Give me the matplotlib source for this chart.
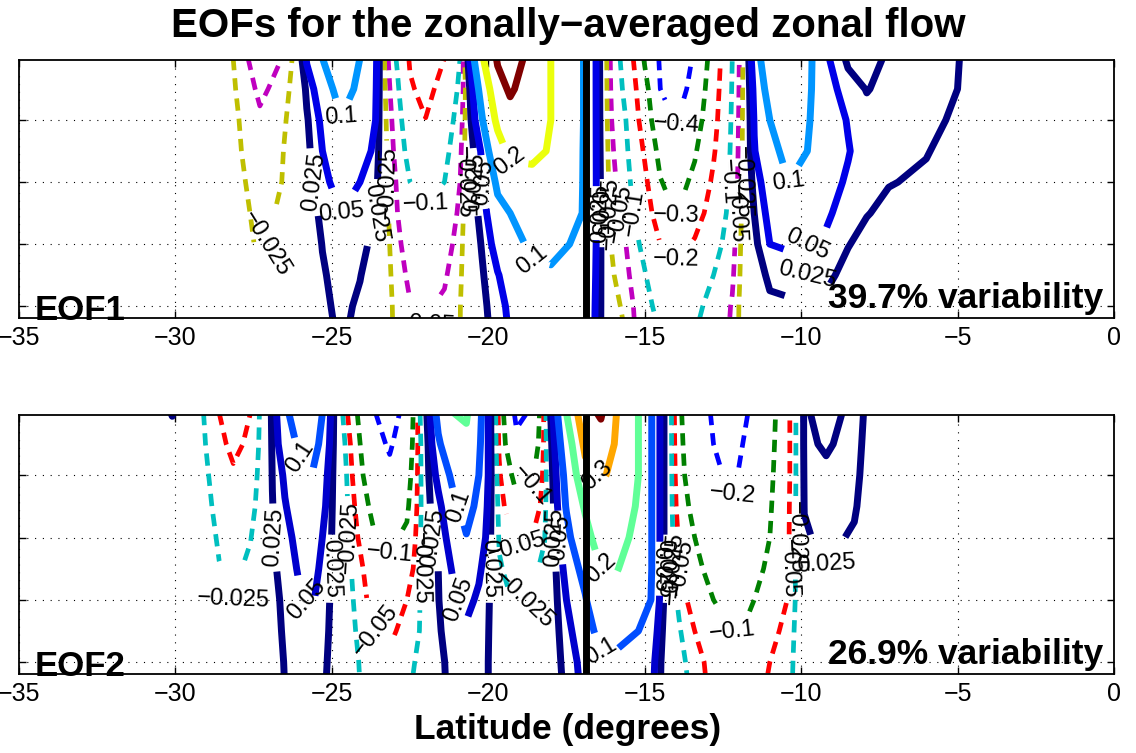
import numpy as np
import matplotlib.pyplot as plt
from matplotlib.colors import Normalize

plt.rcParams['font.family'] = ['Liberation Sans', 'DejaVu Sans']

# vertical levels (top of panel = 0)
depth = [0, 100, 200, 300, 400, 500, 600, 700, 800, 900]

# EOF1: one vertical profile per latitude
lat1 = [-35, -29.5, -28.4, -27.3, -26.6, -26.2, -25.8, -25.3, -24.7, -24.1,
        -23.6, -23.3, -22.9, -22.5, -22.0, -21.4, -20.9, -20.6, -20.2, -19.7,
        -19.3, -18.6, -18.0, -17.4, -17.0, -16.6, -16.1, -15.6, -15.0, -14.5,
        -14.0, -13.4, -12.8, -12.2, -11.75, -11.5, -11.0, -10.4, -9.8, -9.2,
        -8.5, -7.9, -7.2, -6.0, -5.0, -4.0, 0]
eof1 = [
    [0, 0, 0, 0, 0, 0, 0, 0, 0, 0],
    [0, 0, 0, 0, 0, 0, 0, 0, 0, 0],
    [-0.012, -0.012, -0.012, -0.012, -0.011, -0.01, -0.01, -0.009, -0.008, -0.008],
    [-0.07, -0.056, -0.045, -0.04, -0.035, -0.031, -0.028, -0.023, -0.018, -0.015],
    [-0.05, -0.04, -0.033, -0.028, -0.025, -0.022, -0.018, -0.014, -0.01, -0.008],
    [-0.02, -0.015, -0.01, -0.005, 0, 0, 0, 0, 0, 0],
    [0.055, 0.03, 0.022, 0.018, 0.012, 0.008, 0.005, 0.003, 0.002, 0.0],
    [0.1, 0.075, 0.057, 0.05, 0.04, 0.032, 0.026, 0.022, 0.02, 0.018],
    [0.14, 0.12, 0.098, 0.082, 0.066, 0.05, 0.042, 0.036, 0.031, 0.028],
    [0.1, 0.09, 0.075, 0.062, 0.05, 0.04, 0.032, 0.026, 0.021, 0.018],
    [0.06, 0.055, 0.05, 0.045, 0.035, 0.025, 0.018, 0.012, 0.008, 0.005],
    [-0.03, -0.024, -0.02, -0.018, -0.016, -0.015, -0.015, -0.016, -0.018, -0.02],
    [-0.11, -0.09, -0.075, -0.065, -0.055, -0.05, -0.042, -0.035, -0.03, -0.028],
    [-0.21, -0.19, -0.15, -0.125, -0.1, -0.085, -0.07, -0.058, -0.048, -0.045],
    [-0.24, -0.225, -0.198, -0.16, -0.12, -0.092, -0.075, -0.063, -0.053, -0.048],
    [-0.2, -0.17, -0.14, -0.118, -0.1, -0.082, -0.066, -0.054, -0.045, -0.042],
    [-0.1, -0.085, -0.07, -0.058, -0.05, -0.042, -0.035, -0.03, -0.026, -0.025],
    [0.05, 0.022, 0.015, 0.01, 0.008, 0.006, 0.005, 0.004, 0.003, 0.003],
    [0.19, 0.13, 0.095, 0.055, 0.045, 0.035, 0.027, 0.022, 0.018, 0.016],
    [0.31, 0.27, 0.22, 0.16, 0.11, 0.085, 0.065, 0.048, 0.04, 0.035],
    [0.33, 0.31, 0.27, 0.22, 0.16, 0.1, 0.08, 0.066, 0.056, 0.052],
    [0.28, 0.26, 0.24, 0.215, 0.18, 0.15, 0.11, 0.09, 0.075, 0.07],
    [0.2, 0.2, 0.2, 0.195, 0.17, 0.14, 0.11, 0.095, 0.08, 0.075],
    [0.17, 0.17, 0.165, 0.155, 0.14, 0.12, 0.1, 0.085, 0.075, 0.07],
    [0.105, 0.105, 0.105, 0.103, 0.102, 0.1, 0.085, 0.075, 0.065, 0.06],
    [0.06, 0.06, 0.06, 0.06, 0.06, 0.06, 0.058, 0.055, 0.052, 0.05],
    [-0.05, -0.048, -0.045, -0.04, -0.035, -0.03, -0.024, -0.02, -0.016, -0.015],
    [-0.13, -0.115, -0.1, -0.087, -0.075, -0.062, -0.05, -0.04, -0.03, -0.025],
    [-0.31, -0.27, -0.245, -0.21, -0.18, -0.155, -0.12, -0.095, -0.08, -0.075],
    [-0.41, -0.4, -0.37, -0.33, -0.295, -0.25, -0.2, -0.16, -0.12, -0.1],
    [-0.46, -0.44, -0.405, -0.37, -0.335, -0.305, -0.23, -0.17, -0.115, -0.085],
    [-0.39, -0.37, -0.345, -0.31, -0.28, -0.24, -0.19, -0.15, -0.115, -0.1],
    [-0.26, -0.245, -0.23, -0.21, -0.185, -0.16, -0.13, -0.1, -0.08, -0.07],
    [-0.1, -0.095, -0.09, -0.085, -0.08, -0.072, -0.062, -0.055, -0.047, -0.045],
    [0, 0, 0, 0, 0, 0, 0, 0, 0, 0],
    [0.08, 0.06, 0.052, 0.048, 0.035, 0.025, 0.018, 0.012, 0.008, 0.006],
    [0.13, 0.12, 0.1, 0.085, 0.07, 0.06, 0.05, 0.03, 0.02, 0.015],
    [0.15, 0.14, 0.13, 0.115, 0.1, 0.08, 0.055, 0.032, 0.022, 0.018],
    [0.115, 0.11, 0.105, 0.1, 0.09, 0.075, 0.05, 0.025, 0.018, 0.015],
    [0.055, 0.065, 0.07, 0.068, 0.062, 0.055, 0.045, 0.03, 0.02, 0.015],
    [0.02, 0.035, 0.048, 0.052, 0.046, 0.037, 0.026, 0.018, 0.013, 0.01],
    [0.012, 0.024, 0.032, 0.035, 0.032, 0.026, 0.018, 0.012, 0.008, 0.006],
    [0.03, 0.031, 0.031, 0.03, 0.026, 0.02, 0.015, 0.01, 0.007, 0.005],
    [0.035, 0.033, 0.03, 0.026, 0.022, 0.017, 0.012, 0.008, 0.006, 0.004],
    [0.026, 0.025, 0.022, 0.018, 0.014, 0.01, 0.007, 0.005, 0.003, 0.002],
    [0.01, 0.01, 0.009, 0.008, 0.007, 0.005, 0.004, 0.003, 0.002, 0.001],
    [0, 0, 0, 0, 0, 0, 0, 0, 0, 0],
]

# EOF2
lat2 = [-35, -30.5, -30.1, -29.7, -29.3, -28.6, -28.15, -27.6, -27.2, -26.9,
        -26.5, -26.0, -25.6, -25.2, -24.9, -24.5, -24.0, -23.6, -23.15, -22.6,
        -22.2, -21.9, -21.6, -21.1, -20.7, -20.3, -20.0, -19.65, -19.1, -18.6,
        -18.2, -17.9, -17.5, -16.9, -16.4, -15.9, -15.2, -14.8, -14.2, -13.9,
        -13.4, -12.8, -12.2, -11.7, -11.0, -10.4, -10.05, -9.9, -9.2, -8.3,
        -7.8, -6.0, 0]
eof2 = [
    [0, 0, 0, 0, 0, 0, 0, 0, 0, 0],
    [0, 0, 0, 0, 0, 0, 0, 0, 0, 0],
    [0.028, 0.0, 0.0, 0.0, 0.0, 0.0, 0.0, 0.0, 0.0, 0.0],
    [-0.005, -0.005, -0.004, -0.004, -0.003, -0.003, -0.002, -0.002, -0.002, -0.002],
    [-0.015, -0.013, -0.011, -0.009, -0.007, -0.005, -0.004, -0.003, -0.002, -0.002],
    [-0.05, -0.045, -0.038, -0.033, -0.028, -0.024, -0.02, -0.016, -0.013, -0.012],
    [-0.065, -0.055, -0.047, -0.04, -0.035, -0.03, -0.025, -0.02, -0.015, -0.012],
    [-0.05, -0.046, -0.04, -0.034, -0.026, -0.02, -0.016, -0.013, -0.01, -0.009],
    [-0.015, -0.014, -0.012, -0.01, -0.008, -0.006, -0.005, -0.004, -0.003, -0.003],
    [0.03, 0.028, 0.026, 0.024, 0.022, 0.02, 0.018, 0.017, 0.016, 0.015],
    [0.09, 0.075, 0.055, 0.048, 0.04, 0.035, 0.03, 0.028, 0.026, 0.025],
    [0.13, 0.11, 0.085, 0.07, 0.062, 0.055, 0.048, 0.042, 0.036, 0.034],
    [0.13, 0.12, 0.095, 0.08, 0.07, 0.06, 0.052, 0.046, 0.04, 0.037],
    [0.09, 0.075, 0.058, 0.05, 0.043, 0.038, 0.033, 0.03, 0.027, 0.025],
    [0.015, 0.015, 0.015, 0.015, 0.015, 0.015, 0.015, 0.015, 0.015, 0.015],
    [-0.05, -0.035, -0.028, -0.024, -0.02, -0.017, -0.015, -0.013, -0.012, -0.011],
    [-0.13, -0.115, -0.1, -0.08, -0.065, -0.05, -0.042, -0.036, -0.03, -0.028],
    [-0.2, -0.175, -0.15, -0.125, -0.1, -0.085, -0.068, -0.05, -0.042, -0.038],
    [-0.24, -0.21, -0.18, -0.145, -0.11, -0.09, -0.072, -0.056, -0.044, -0.04],
    [-0.17, -0.15, -0.13, -0.11, -0.09, -0.07, -0.05, -0.04, -0.03, -0.027],
    [-0.03, -0.035, -0.035, -0.035, -0.032, -0.03, -0.028, -0.025, -0.022, -0.02],
    [0.04, 0.03, 0.025, 0.022, 0.02, 0.018, 0.017, 0.015, 0.014, 0.013],
    [0.12, 0.09, 0.06, 0.04, 0.03, 0.025, 0.024, 0.022, 0.02, 0.02],
    [0.2, 0.16, 0.115, 0.09, 0.07, 0.055, 0.045, 0.038, 0.032, 0.03],
    [0.21, 0.18, 0.14, 0.115, 0.098, 0.08, 0.058, 0.046, 0.038, 0.035],
    [0.12, 0.11, 0.1, 0.09, 0.075, 0.055, 0.045, 0.038, 0.032, 0.03],
    [0.05, 0.05, 0.05, 0.045, 0.04, 0.035, 0.03, 0.027, 0.025, 0.025],
    [-0.06, -0.055, -0.045, -0.035, -0.028, -0.022, -0.018, -0.015, -0.013, -0.012],
    [-0.22, -0.18, -0.12, -0.085, -0.055, -0.038, -0.028, -0.022, -0.018, -0.015],
    [-0.19, -0.16, -0.11, -0.08, -0.05, -0.03, -0.022, -0.018, -0.015, -0.013],
    [-0.04, -0.04, -0.038, -0.033, -0.026, -0.02, -0.016, -0.013, -0.011, -0.01],
    [0.06, 0.045, 0.035, 0.028, 0.022, 0.018, 0.016, 0.015, 0.014, 0.013],
    [0.2, 0.15, 0.12, 0.105, 0.08, 0.062, 0.05, 0.04, 0.034, 0.03],
    [0.37, 0.32, 0.27, 0.21, 0.17, 0.12, 0.095, 0.075, 0.062, 0.058],
    [0.41, 0.36, 0.31, 0.275, 0.245, 0.2, 0.16, 0.12, 0.09, 0.08],
    [0.3, 0.29, 0.28, 0.26, 0.24, 0.205, 0.17, 0.115, 0.09, 0.085],
    [0.2, 0.2, 0.2, 0.19, 0.17, 0.15, 0.13, 0.1, 0.075, 0.068],
    [0.105, 0.105, 0.105, 0.105, 0.105, 0.105, 0.1, 0.08, 0.065, 0.06],
    [-0.01, -0.01, -0.01, -0.01, -0.01, -0.01, -0.01, -0.01, -0.01, -0.01],
    [-0.09, -0.085, -0.078, -0.068, -0.055, -0.045, -0.03, -0.022, -0.018, -0.016],
    [-0.15, -0.145, -0.14, -0.12, -0.1, -0.085, -0.07, -0.05, -0.035, -0.03],
    [-0.21, -0.2, -0.185, -0.16, -0.14, -0.12, -0.1, -0.08, -0.065, -0.06],
    [-0.24, -0.23, -0.215, -0.19, -0.165, -0.14, -0.12, -0.1, -0.085, -0.08],
    [-0.2, -0.185, -0.17, -0.155, -0.14, -0.125, -0.11, -0.09, -0.07, -0.065],
    [-0.12, -0.115, -0.11, -0.105, -0.1, -0.09, -0.075, -0.06, -0.05, -0.045],
    [-0.055, -0.055, -0.055, -0.053, -0.052, -0.05, -0.048, -0.04, -0.035, -0.032],
    [-0.01, -0.01, -0.01, -0.01, -0.01, -0.01, -0.01, -0.01, -0.01, -0.01],
    [0.03, 0.03, 0.028, 0.026, 0.022, 0.018, 0.014, 0.01, 0.008, 0.007],
    [0.012, 0.022, 0.03, 0.033, 0.031, 0.024, 0.018, 0.012, 0.009, 0.007],
    [0.035, 0.034, 0.032, 0.028, 0.022, 0.016, 0.011, 0.008, 0.006, 0.005],
    [0.018, 0.015, 0.012, 0.01, 0.008, 0.006, 0.005, 0.004, 0.003, 0.002],
    [0.005, 0.005, 0.004, 0.004, 0.003, 0.003, 0.002, 0.002, 0.001, 0.001],
    [0, 0, 0, 0, 0, 0, 0, 0, 0, 0],
]

neg_levels1 = [-0.4, -0.3, -0.2, -0.1, -0.05, -0.025]
neg_colors1 = ['#0000ff', '#008000', '#ff0000', '#00bfbf', '#bf00bf', '#bfbf00']
pos_levels1 = [0.025, 0.05, 0.1, 0.2, 0.3]

neg_levels2 = [-0.2, -0.1, -0.05, -0.025]
neg_colors2 = ['#0000ff', '#008000', '#ff0000', '#00bfbf']
pos_levels2 = [0.025, 0.05, 0.1, 0.2, 0.3, 0.4]

variance = ['39.7% variability', '26.9% variability']
names = ['EOF1', 'EOF2']
jet_lat = -16.88


def fmt(v):
    return ('%g' % v).replace('-', '\u2212')


def draw_panel(ax, lat, prof, neg_levels, neg_colors, pos_levels, name, pct):
    z = np.array(prof).T
    cn = ax.contour(lat, depth, z, levels=neg_levels, colors=neg_colors,
                    linewidths=3.4, linestyles=[(0, (2.6, 1.7))])
    cp = ax.contour(lat, depth, z, levels=pos_levels, cmap='jet',
                    norm=Normalize(0.025, max(pos_levels)), linewidths=5)
    ax.clabel(cn, fmt=fmt, fontsize=17, inline=True, inline_spacing=2,
              colors='k')
    ax.clabel(cp, fmt=fmt, fontsize=17, inline=True, inline_spacing=2,
              colors='k')
    ax.axvline(jet_lat, color='k', lw=5, zorder=5)

    ax.set_xlim(-35, 0)
    ax.set_ylim(838, 6.5)
    ax.set_xticks(range(-35, 1, 5))
    ax.set_yticks([200, 400, 600, 800])
    ax.set_yticklabels([])
    ax.grid(True, linestyle=(0, (1, 6)), color='k', lw=0.8)
    ax.tick_params(direction='in', top=True, right=True, length=5, width=1,
                   labelsize=18, pad=6)
    for s in ax.spines.values():
        s.set_linewidth(1.3)

    ax.text(0.014, -0.008, name, transform=ax.transAxes, fontsize=25,
            fontweight='bold', ha='left', va='baseline', clip_on=False,
            zorder=10)
    ax.text(0.99, 0.04, pct, transform=ax.transAxes, fontsize=25.5,
            fontweight='bold', ha='right', va='baseline', zorder=10)


fig = plt.figure(figsize=(11.36, 7.53), dpi=100)
ax1 = fig.add_axes([0.0167, 0.5777, 0.9639, 0.3426])
ax2 = fig.add_axes([0.0167, 0.1049, 0.9639, 0.3440])

draw_panel(ax1, lat1, eof1, neg_levels1, neg_colors1, pos_levels1,
           names[0], variance[0])
draw_panel(ax2, lat2, eof2, neg_levels2, neg_colors2, pos_levels2,
           names[1], variance[1])

fig.text(0.5, 0.966, 'EOFs for the zonally\u2212averaged zonal flow',
         ha='center', va='center', fontsize=29, fontweight='bold')
fig.text(0.5, 0.031, 'Latitude (degrees)', ha='center', va='center',
         fontsize=25.5, fontweight='bold')

fig.savefig('out.png', dpi=100)
